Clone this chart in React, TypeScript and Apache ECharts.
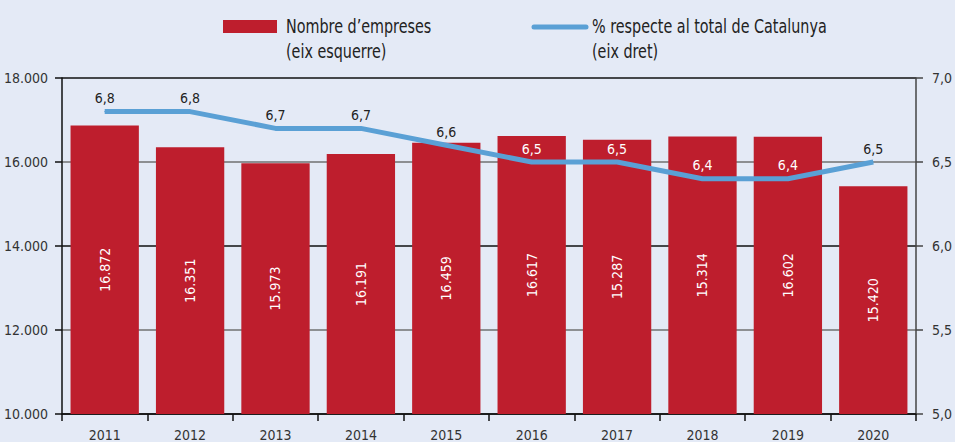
import React, { useEffect, useRef } from "react";
import * as echarts from "echarts";

const years = ["2011", "2012", "2013", "2014", "2015", "2016", "2017", "2018", "2019", "2020"];
// bar heights as drawn in the picture
const barHeights = [16872, 16351, 15973, 16191, 16459, 16617, 16530, 16610, 16602, 15420];
// numbers printed on the bars
const barLabels = [16872, 16351, 15973, 16191, 16459, 16617, 15287, 15314, 16602, 15420];
// % of Catalonia total
const shareValues = [6.8, 6.8, 6.7, 6.7, 6.6, 6.5, 6.5, 6.4, 6.4, 6.5];
const leftTicks = [10000, 12000, 14000, 16000, 18000];
const rightTicks = [5.0, 5.5, 6.0, 6.5, 7.0];

const FONT = "'DejaVu Sans Condensed', 'Liberation Sans Narrow', sans-serif";
const RED = "#be1e2d";
const BLUE = "#5aa0d5";
const BG = "#e4eaf6";

const thousands = (v: number) => {
  const s = Math.round(v).toString();
  return s.replace(/\B(?=(\d{3})+(?!\d))/g, ".");
};
const decimal1 = (v: number) => v.toFixed(1).replace(".", ",");

export default function App() {
  const ref = useRef<HTMLDivElement>(null);
  useEffect(() => {
    document.body.style.margin = "0";
    if (!ref.current) return;
    const chart = echarts.init(ref.current, null, { renderer: "svg" });
    const whiteLabelIdx = new Set([5, 6, 7, 8]);
    chart.setOption({
      animation: false,
      backgroundColor: BG,
      textStyle: { fontFamily: FONT },
      grid: { left: 62, right: 35, top: 78, bottom: 26, containLabel: false },
      graphic: [
        { type: "rect", left: 223, top: 20, shape: { width: 54, height: 13 }, style: { fill: RED } },
        {
          type: "text",
          x: 286,
          y: 14,
          scaleX: 0.84,
          style: {
            text: "Nombre d’empreses\n(eix esquerre)",
            font: `19px ${FONT}`,
            lineHeight: 25,
            fill: "#222",
          },
        },
        {
          type: "line",
          shape: { x1: 534, y1: 27, x2: 586, y2: 27 },
          style: { stroke: BLUE, lineWidth: 5, lineCap: "round" },
        },
        {
          type: "text",
          x: 592,
          y: 14,
          scaleX: 0.84,
          style: {
            text: "% respecte al total de Catalunya\n(eix dret)",
            font: `19px ${FONT}`,
            lineHeight: 25,
            fill: "#222",
          },
        },
      ],
      xAxis: {
        type: "category",
        data: years,
        axisLine: { lineStyle: { color: "#111", width: 1.5 } },
        axisTick: { show: true, length: 7, alignWithLabel: false, lineStyle: { color: "#111", width: 1.5 } },
        axisLabel: { color: "#333", fontSize: 14, margin: 14, fontFamily: FONT },
      },
      yAxis: [
        {
          type: "value",
          min: leftTicks[0],
          max: leftTicks[leftTicks.length - 1],
          interval: 2000,
          axisLine: { show: true, lineStyle: { color: "#111", width: 1.5 } },
          axisTick: { show: true, length: 7, lineStyle: { color: "#111", width: 1.5 } },
          axisLabel: { color: "#333", fontSize: 14, margin: 14, fontFamily: FONT, formatter: (v: number) => thousands(v) },
          splitLine: { show: true, lineStyle: { color: ["#111", "#707070"], width: 1.5 } },
        },
        {
          type: "value",
          min: rightTicks[0],
          max: rightTicks[rightTicks.length - 1],
          interval: 0.5,
          position: "right",
          axisLine: { show: true, lineStyle: { color: "#444", width: 1.5 } },
          axisTick: { show: true, length: 7, lineStyle: { color: "#444", width: 1.5 } },
          axisLabel: { color: "#333", fontSize: 14, margin: 16, fontFamily: FONT, formatter: (v: number) => decimal1(v) },
          splitLine: { show: false },
        },
      ],
      series: [
        {
          name: "Nombre d’empreses",
          type: "bar",
          yAxisIndex: 0,
          data: barHeights,
          barCategoryGap: "20%",
          itemStyle: { color: RED },
          label: {
            show: true,
            position: "inside",
            rotate: 90,
            color: "#fff",
            fontSize: 14,
            fontFamily: FONT,
            formatter: (p: any) => thousands(barLabels[p.dataIndex]),
          },
          z: 2,
        },
        {
          name: "% respecte al total de Catalunya",
          type: "line",
          yAxisIndex: 1,
          data: shareValues.map((v, i) => ({
            value: v,
            label: { color: whiteLabelIdx.has(i) ? "#fff" : "#222" },
          })),
          symbol: "circle",
          symbolSize: 1,
          showSymbol: true,
          lineStyle: { color: BLUE, width: 5 },
          itemStyle: { color: BLUE },
          label: {
            show: true,
            position: "top",
            distance: 6,
            fontSize: 14,
            fontFamily: FONT,
            formatter: (p: any) => decimal1(p.value),
          },
          z: 3,
        },
      ],
    });
    return () => chart.dispose();
  }, []);
  return <div ref={ref} style={{ width: 955, height: 442 }} />;
}
